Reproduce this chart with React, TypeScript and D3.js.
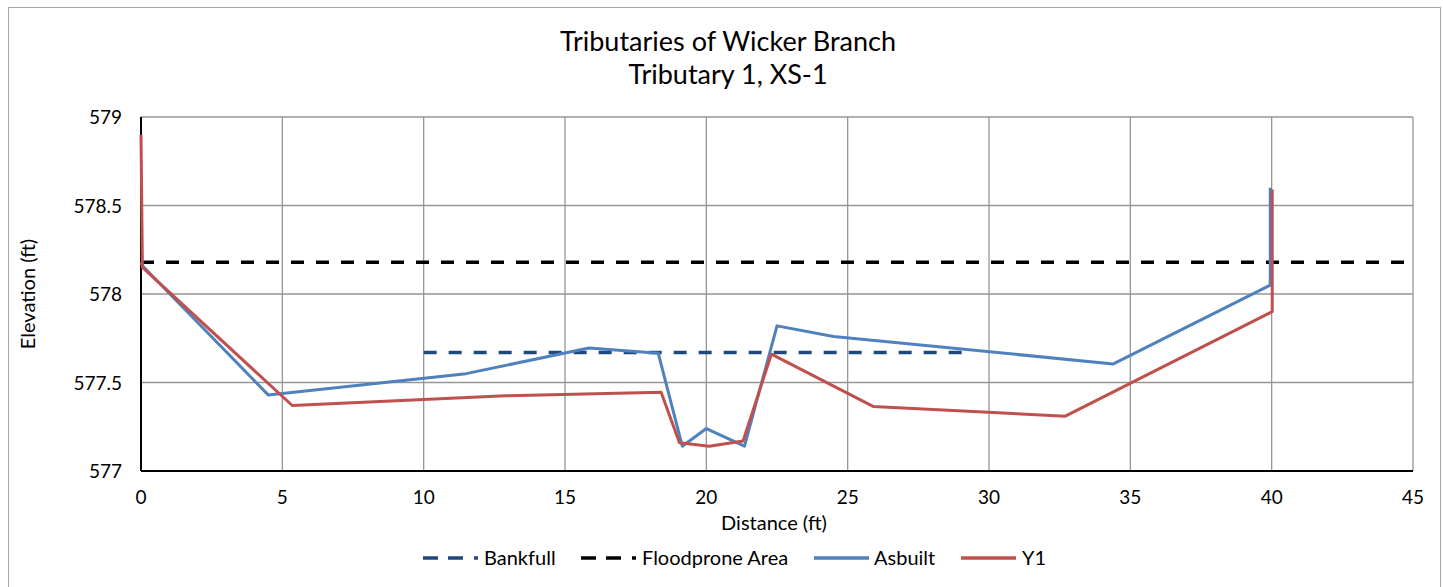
import React from "react";
import * as d3 from "d3";

const bankfullX = [10, 29.2];
const bankfullY = [577.67, 577.67];
const floodX = [0, 45];
const floodY = [578.18, 578.18];
const asbuiltX = [0, 0.05, 4.5, 11.5, 15.85, 18.3, 19.15, 20.0, 21.35, 22.5, 24.5, 34.4, 39.95, 39.95];
const asbuiltY = [578.18, 578.16, 577.43, 577.55, 577.695, 577.665, 577.14, 577.24, 577.14, 577.82, 577.76, 577.605, 578.05, 578.6];
const y1X = [0, 0.05, 5.35, 12.9, 18.4, 19.05, 20.1, 21.3, 22.3, 25.9, 32.7, 40.02, 40.02];
const y1Y = [578.9, 578.15, 577.37, 577.425, 577.445, 577.16, 577.14, 577.17, 577.66, 577.365, 577.31, 577.9, 578.59];
const xTicks = [0, 5, 10, 15, 20, 25, 30, 35, 40, 45];
const yTicks = [577, 577.5, 578, 578.5, 579];
const titleLines = ["Tributaries of Wicker Branch", "Tributary 1, XS-1"];

const W = 1443, H = 587;
const FONT = "Lato, 'Open Sans', sans-serif";

export default function App() {
  const x = d3.scaleLinear().domain([0, 45]).range([141, 1413]);
  const y = d3.scaleLinear().domain([577, 579]).range([471, 117]);
  const line = d3.line<[number, number]>().x(d => x(d[0])).y(d => y(d[1]));
  const zip = (a: number[], b: number[]) => a.map((v, i) => [v, b[i]] as [number, number]);

  const legend = [
    { label: "Bankfull", color: "#1F497D", dash: true, lx: 423, tx: 484 },
    { label: "Floodprone Area", color: "#000000", dash: true, lx: 581, tx: 642 },
    { label: "Asbuilt", color: "#4F81BD", dash: false, lx: 814, tx: 874 },
    { label: "Y1", color: "#C0504D", dash: false, lx: 961, tx: 1022 },
  ];

  return (
    <svg width={W} height={H} style={{ position: "absolute", left: 0, top: 0, display: "block" }} fontFamily={FONT}>
      <rect x={0} y={0} width={W} height={H} fill="#fff" />
      <rect x={8.5} y={7.5} width={1432} height={590} fill="#fff" stroke="#a6a6a6" strokeWidth={1} />
      {titleLines.map((t, i) => (
        <text key={t} x={728} y={51 + i * 33} textAnchor="middle" fontSize={27} fill="#000">{t}</text>
      ))}
      {xTicks.map(t => (
        <line key={"gx" + t} x1={x(t)} x2={x(t)} y1={117} y2={471} stroke="#969696" strokeWidth={1.3} />
      ))}
      {yTicks.map(t => (
        <line key={"gy" + t} x1={141} x2={1413} y1={y(t)} y2={y(t)} stroke="#969696" strokeWidth={1.3} />
      ))}
      <line x1={141} x2={141} y1={117} y2={471} stroke="#000" strokeWidth={2} />
      <line x1={141} x2={1413} y1={471} y2={471} stroke="#000" strokeWidth={2} />
      {yTicks.map(t => (
        <text key={"ty" + t} x={122} y={y(t) + 7} textAnchor="end" fontSize={19} fill="#000">{t}</text>
      ))}
      {xTicks.map(t => (
        <text key={"tx" + t} x={x(t)} y={504} textAnchor="middle" fontSize={19} fill="#000">{t}</text>
      ))}
      <text x={774} y={530} textAnchor="middle" fontSize={20} fill="#000">Distance (ft)</text>
      <text transform={`translate(35,294) rotate(-90)`} textAnchor="middle" fontSize={20} fill="#000">Elevation (ft)</text>

      <path d={line(zip(bankfullX, bankfullY)) || ""} fill="none" stroke="#1F497D" strokeWidth={3.5} strokeDasharray="13,12" />
      <path d={line(zip(floodX, floodY)) || ""} fill="none" stroke="#000" strokeWidth={3.5} strokeDasharray="13,12" />
      <path d={line(zip(asbuiltX, asbuiltY)) || ""} fill="none" stroke="#4F81BD" strokeWidth={3} strokeLinejoin="round" />
      <path d={line(zip(y1X, y1Y)) || ""} fill="none" stroke="#C0504D" strokeWidth={3} strokeLinejoin="round" />

      {legend.map(l => (
        <g key={l.label}>
          {l.dash ? (
            <g stroke={l.color} strokeWidth={3.5}>
              <line x1={l.lx} x2={l.lx + 15} y1={558} y2={558} />
              <line x1={l.lx + 25} x2={l.lx + 40} y1={558} y2={558} />
              <line x1={l.lx + 51} x2={l.lx + 55} y1={558} y2={558} />
            </g>
          ) : (
            <line x1={l.lx} x2={l.lx + 55} y1={558} y2={558} stroke={l.color} strokeWidth={3.5} />
          )}
          <text x={l.tx} y={565} fontSize={20} fill="#000">{l.label}</text>
        </g>
      ))}
    </svg>
  );
}
